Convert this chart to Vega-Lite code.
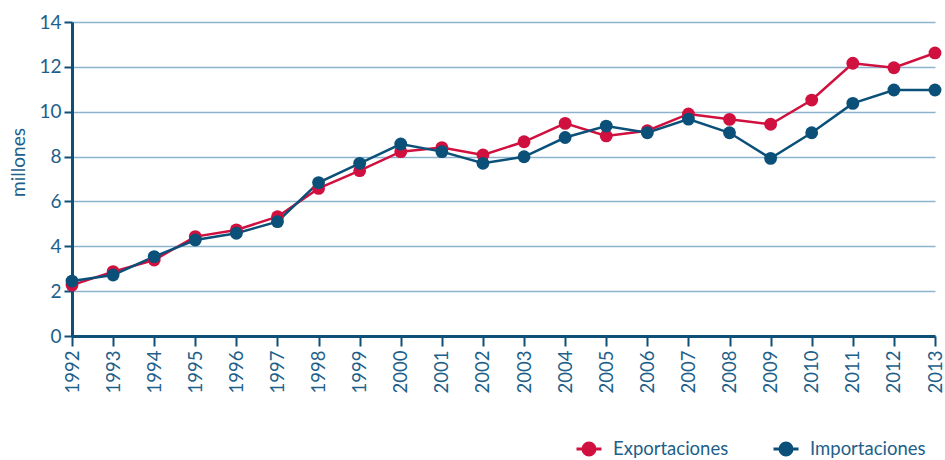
{
  "$schema": "https://vega.github.io/schema/vega-lite/v6.json",
  "width": 863,
  "height": 314,
  "autosize": {"type": "none"},
  "padding": {"left": 72, "top": 22, "right": 10, "bottom": 124},
  "background": "white",
  "config": {"font": "Lato", "view": {"stroke": null}},
  "data": {"values": [
    {"year": "1992", "serie": "Exportaciones", "value": 2.27},
    {"year": "1993", "serie": "Exportaciones", "value": 2.87},
    {"year": "1994", "serie": "Exportaciones", "value": 3.39},
    {"year": "1995", "serie": "Exportaciones", "value": 4.43},
    {"year": "1996", "serie": "Exportaciones", "value": 4.73},
    {"year": "1997", "serie": "Exportaciones", "value": 5.32},
    {"year": "1998", "serie": "Exportaciones", "value": 6.58},
    {"year": "1999", "serie": "Exportaciones", "value": 7.37},
    {"year": "2000", "serie": "Exportaciones", "value": 8.22},
    {"year": "2001", "serie": "Exportaciones", "value": 8.4},
    {"year": "2002", "serie": "Exportaciones", "value": 8.07},
    {"year": "2003", "serie": "Exportaciones", "value": 8.66},
    {"year": "2004", "serie": "Exportaciones", "value": 9.48},
    {"year": "2005", "serie": "Exportaciones", "value": 8.92},
    {"year": "2006", "serie": "Exportaciones", "value": 9.15},
    {"year": "2007", "serie": "Exportaciones", "value": 9.9},
    {"year": "2008", "serie": "Exportaciones", "value": 9.66},
    {"year": "2009", "serie": "Exportaciones", "value": 9.44},
    {"year": "2010", "serie": "Exportaciones", "value": 10.52},
    {"year": "2011", "serie": "Exportaciones", "value": 12.16},
    {"year": "2012", "serie": "Exportaciones", "value": 11.96},
    {"year": "2013", "serie": "Exportaciones", "value": 12.62},
    {"year": "1992", "serie": "Importaciones", "value": 2.45},
    {"year": "1993", "serie": "Importaciones", "value": 2.72},
    {"year": "1994", "serie": "Importaciones", "value": 3.54},
    {"year": "1995", "serie": "Importaciones", "value": 4.28},
    {"year": "1996", "serie": "Importaciones", "value": 4.58},
    {"year": "1997", "serie": "Importaciones", "value": 5.1},
    {"year": "1998", "serie": "Importaciones", "value": 6.84},
    {"year": "1999", "serie": "Importaciones", "value": 7.7},
    {"year": "2000", "serie": "Importaciones", "value": 8.56},
    {"year": "2001", "serie": "Importaciones", "value": 8.22},
    {"year": "2002", "serie": "Importaciones", "value": 7.7},
    {"year": "2003", "serie": "Importaciones", "value": 7.99},
    {"year": "2004", "serie": "Importaciones", "value": 8.85},
    {"year": "2005", "serie": "Importaciones", "value": 9.36},
    {"year": "2006", "serie": "Importaciones", "value": 9.06},
    {"year": "2007", "serie": "Importaciones", "value": 9.67},
    {"year": "2008", "serie": "Importaciones", "value": 9.06},
    {"year": "2009", "serie": "Importaciones", "value": 7.92},
    {"year": "2010", "serie": "Importaciones", "value": 9.06},
    {"year": "2011", "serie": "Importaciones", "value": 10.37},
    {"year": "2012", "serie": "Importaciones", "value": 10.97},
    {"year": "2013", "serie": "Importaciones", "value": 10.97}
  ]},
  "encoding": {
    "x": {
      "field": "year", "type": "ordinal",
      "scale": {"type": "point", "padding": 0},
      "axis": {
        "title": null, "labelAngle": -90, "labelFontSize": 18.5, "labelColor": "#1d5f8a",
        "tickSize": 10, "tickWidth": 2, "tickColor": "#0d4f77",
        "domainWidth": 3, "domainColor": "#0d4f77", "grid": false, "labelPadding": 4
      }
    },
    "y": {
      "field": "value", "type": "quantitative",
      "scale": {"domain": [0, 14], "nice": false},
      "axis": {
        "values": [0, 2, 4, 6, 8, 10, 12, 14],
        "title": "millones", "titleFontSize": 19, "titleFontWeight": "normal", "titleColor": "#1d5f8a",
        "titleAngle": -90, "titleX": -54, "titleY": 140, "titleAlign": "center", "titleBaseline": "middle",
        "labelFontSize": 19, "labelColor": "#1d5f8a", "labelPadding": 3,
        "tickSize": 8, "tickWidth": 2, "tickColor": "#0d4f77",
        "domainWidth": 3, "domainColor": "#0d4f77",
        "grid": true, "gridColor": "#8db2cd", "gridWidth": 1.5
      }
    },
    "color": {
      "field": "serie", "type": "nominal",
      "scale": {"domain": ["Exportaciones", "Importaciones"], "range": ["#d0103e", "#0b5079"]},
      "legend": {
        "title": null, "orient": "none", "direction": "horizontal",
        "legendX": 503, "legendY": 413,
        "symbolType": "M-1,0L1,0M0.48,0A0.48,0.48,0,1,1,-0.48,0A0.48,0.48,0,1,1,0.48,0Z",
        "symbolSize": 625, "symbolStrokeWidth": 3,
        "labelFontSize": 18.5, "labelColor": "#1d5f8a", "labelOffset": 10,
        "columnPadding": 38,
        "encode": {"symbols": {"update": {"fill": {"scale": "color", "field": "value"}, "stroke": {"scale": "color", "field": "value"}, "strokeWidth": {"value": 3}, "opacity": {"value": 1}}}}
      }
    }
  },
  "layer": [
    {"mark": {"type": "line", "strokeWidth": 2.5}},
    {"mark": {"type": "point", "filled": true, "size": 165, "opacity": 1}}
  ]
}
